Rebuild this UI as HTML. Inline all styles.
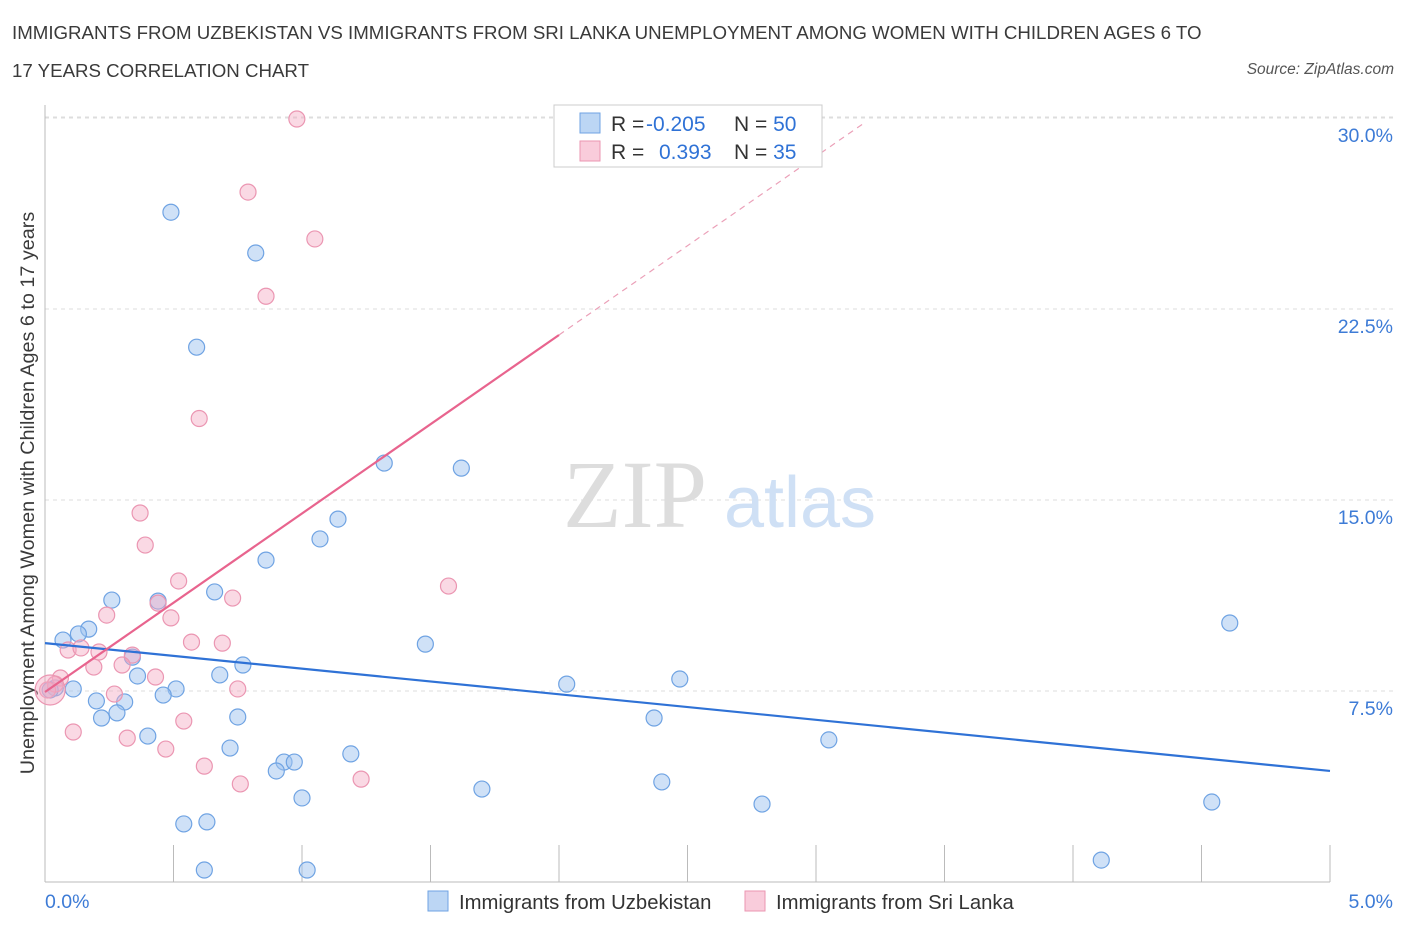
<!DOCTYPE html>
<html><head><meta charset="utf-8">
<style>
body{margin:0;background:#fff;font-family:"Liberation Sans",sans-serif;}
#wrap{position:relative;width:1406px;height:930px;overflow:hidden;}
.t{position:absolute;color:#3a3a3a;font-size:18.7px;}
</style></head><body>
<div id="wrap">
<div class="t" style="left:12px;top:22px">IMMIGRANTS FROM UZBEKISTAN VS IMMIGRANTS FROM SRI LANKA UNEMPLOYMENT AMONG WOMEN WITH CHILDREN AGES 6 TO</div>
<div class="t" style="left:12px;top:60px">17 YEARS CORRELATION CHART</div>
<div class="t" style="right:12px;top:61px;font-size:15.5px;font-style:italic;color:#555">Source: ZipAtlas.com</div>
<svg id="svg" width="1406" height="930" style="position:absolute;left:0;top:0"></svg>
</div>
<script>
const blueX=[0.49,0.82,0.59,1.32,1.62,1.14,1.07,0.86,0.26,0.44,0.66,0.17,0.13,0.07,1.48,0.77,0.34,0.36,0.68,0.51,0.46,0.11,0.04,0.02,0.20,0.31,0.28,0.22,0.75,2.03,2.47,2.37,3.05,0.40,0.72,0.93,0.97,0.90,1.19,1.70,2.40,1.00,2.79,4.54,0.54,0.63,0.62,1.02,4.11,4.61];
const blueY=[26.3,24.7,21.0,16.45,16.25,14.25,13.47,12.64,11.07,11.03,11.39,9.93,9.74,9.50,9.34,8.52,8.83,8.09,8.13,7.58,7.34,7.58,7.62,7.54,7.11,7.07,6.64,6.44,6.48,7.77,7.97,6.44,5.58,5.73,5.26,4.71,4.71,4.36,5.03,3.65,3.93,3.30,3.06,3.14,2.28,2.36,0.47,0.47,0.86,10.17];
const pinkX=[0.98,0.79,1.05,0.86,0.60,0.37,0.39,0.52,0.73,0.44,1.57,0.24,0.49,0.57,0.69,0.09,0.14,0.21,0.34,0.19,0.30,0.43,0.06,0.04,0.01,0.27,0.75,0.11,0.54,0.32,0.47,0.62,0.76,1.23,0.02];
const pinkY=[29.96,27.09,25.25,23.0,18.2,14.49,13.23,11.82,11.15,10.95,11.62,10.48,10.37,9.42,9.38,9.11,9.19,9.03,8.91,8.44,8.52,8.05,8.01,7.77,7.54,7.38,7.58,5.89,6.32,5.65,5.22,4.55,3.85,4.04,7.54];
const blueTrend=[9.38,-1.004]; // intercept, slope
const pinkTrend=[7.46,7.01];
const pinkSolidEnd=2.0, pinkDashEnd=3.19;
const yTicks=[7.5,15,22.5,30];
const yTickLabels=["7.5%","15.0%","22.5%","30.0%"];
const xTicks=[0,0.5,1,1.5,2,2.5,3,3.5,4,4.5,5];

const NS="http://www.w3.org/2000/svg";
const svg=document.getElementById('svg');
const X=v=>45+v*257;
const Y=v=>882-v*25.467;
function el(tag,a,parent){const e=document.createElementNS(NS,tag);for(const k in a)e.setAttribute(k,a[k]);(parent||svg).appendChild(e);return e;}

yTicks.forEach((t,i)=>{
  const g=el('line',{x1:45,x2:1393,y1:Y(t),y2:Y(t),stroke:'#ddd','stroke-dasharray':'4,4'});
  
  
  const tx=el('text',{x:1393,y:Y(t)+24,'text-anchor':'end',fill:'#3d7bd6','font-size':'19.5','font-family':'Liberation Sans'});
  tx.textContent=yTickLabels[i];
  
  
});
const topg=el('line',{x1:45,x2:1393,y1:117,y2:117,stroke:'#ddd','stroke-dasharray':'4,4'});


const ya=el('line',{x1:45,x2:45,y1:105,y2:882,stroke:'#bbb'});


const xa=el('line',{x1:45,x2:1330,y1:882,y2:882,stroke:'#bbb'});


xTicks.forEach(t=>{
  const l=el('line',{x1:X(t),x2:X(t),y1:882,y2:t==0?882:845,stroke:'#bbb'});
  
  
});
[["0.0%",45,'start'],["5.0%",1393,'end']].forEach(([s,x,a])=>{
  const tx=el('text',{x:x,y:908,'text-anchor':a,fill:'#3d7bd6','font-size':'19.5','font-family':'Liberation Sans'});
  tx.textContent=s;
  
  
});
const yt=el('text',{x:0,y:0,transform:'translate(34,493) rotate(-90)','text-anchor':'middle',fill:'#3a3a3a','font-size':'19.8','font-family':'Liberation Sans'});
yt.textContent='Unemployment Among Women with Children Ages 6 to 17 years';



const wm=el('text',{x:635,y:527,'text-anchor':'middle',fill:'#ddd','font-size':'96','font-family':'Liberation Serif'});
wm.textContent='ZIP';


const wm2=el('text',{x:800,y:527,'text-anchor':'middle',fill:'#cfe0f5','font-size':'72','font-family':'Liberation Sans'});
wm2.textContent='atlas';



function pts(xs,ys,fill,stroke,name){
  xs.forEach((x,i)=>{
    const big=(i==xs.length-1&&name=='pink-point');
    const c=el('circle',{cx:X(x),cy:Y(ys[i]),r:big?15:8,fill:fill,stroke:stroke,'stroke-width':1.2});
    
    
  });
}
pts(blueX,blueY,'rgba(160,196,240,0.5)','#6fa3e3','blue-point');
pts(pinkX,pinkY,'rgba(245,170,195,0.45)','#eb96b2','pink-point');

const bt=el('line',{x1:X(0),y1:Y(blueTrend[0]),x2:X(5),y2:Y(blueTrend[0]+5*blueTrend[1]),stroke:'#2f72d6','stroke-width':2.2});


const pt=el('line',{x1:X(0),y1:Y(pinkTrend[0]),x2:X(pinkSolidEnd),y2:Y(pinkTrend[0]+pinkSolidEnd*pinkTrend[1]),stroke:'#e8648e','stroke-width':2.2});


const pd=el('line',{x1:X(pinkSolidEnd),y1:Y(pinkTrend[0]+pinkSolidEnd*pinkTrend[1]),x2:X(pinkDashEnd),y2:Y(pinkTrend[0]+pinkDashEnd*pinkTrend[1]),stroke:'#eba0b8','stroke-width':1.2,'stroke-dasharray':'6,5'});



const lb=el('rect',{x:554,y:105,width:268,height:62,fill:'#fff',stroke:'#ccc'});


[[0,'rgba(160,196,240,0.7)','#6fa3e3','-0.205','50'],[1,'rgba(245,170,195,0.6)','#eb96b2',' 0.393','35']].forEach(([i,f,s,r,n])=>{
  const y=113+i*28;
  const sw=el('rect',{x:580,y:y,width:20,height:20,fill:f,stroke:s});
  
  
  const t=el('text',{x:611,y:y+18,'font-size':'21','font-family':'Liberation Sans',fill:'#333'});
  t.innerHTML='R = <tspan fill="#2f72d6" x="'+(r[0]=='-'?646:659)+'">'+r.trim()+'</tspan><tspan x="734">N = </tspan><tspan fill="#2f72d6">'+n+'</tspan>';
  
  
});
[[428,'rgba(160,196,240,0.7)','#6fa3e3','Immigrants from Uzbekistan',459],[745,'rgba(245,170,195,0.6)','#eb96b2','Immigrants from Sri Lanka',776]].forEach(([x,f,s,lab,tx])=>{
  const sw=el('rect',{x:x,y:891,width:20,height:20,fill:f,stroke:s});
  
  
  const t=el('text',{x:tx,y:909,'font-size':'20.3','font-family':'Liberation Sans',fill:'#333'});
  t.textContent=lab;
  
  
});
</script>
</body></html>
